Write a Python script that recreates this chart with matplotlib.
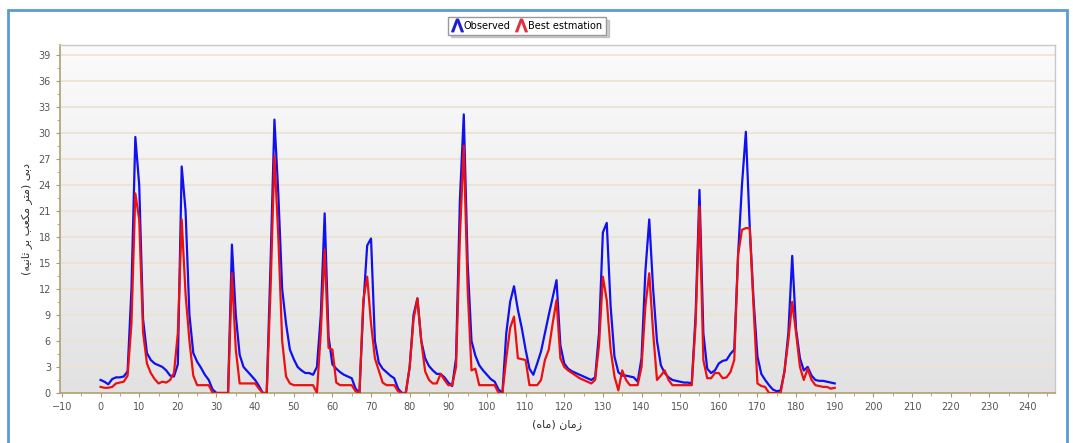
import numpy as np
import matplotlib
matplotlib.use("Agg")
import matplotlib.pyplot as plt
from matplotlib.lines import Line2D
from matplotlib.patches import Rectangle

# monthly discharge, months 0..190
observed = [
    1.5, 1.3, 1.0, 1.6, 1.8, 1.8, 1.9, 2.5, 12.0, 29.5,
    24.0, 8.5, 4.6, 3.8, 3.4, 3.2, 3.0, 2.6, 2.0, 1.9,
    3.3, 26.1, 21.0, 9.0, 4.6, 3.6, 2.9, 2.1, 1.5, 0.4,
    0.0, 0.0, 0.0, 0.0, 17.1, 9.0, 4.4, 3.0, 2.5, 2.0,
    1.5, 0.8, 0.0, 0.0, 15.0, 31.5, 23.0, 12.0, 8.0, 5.0,
    3.9, 3.0, 2.6, 2.3, 2.3, 2.1, 3.0, 9.0, 20.7, 6.5,
    3.3, 2.8, 2.4, 2.1, 1.9, 1.7, 0.5, 0.0, 10.0, 17.0,
    17.8, 6.0, 3.5, 2.8, 2.4, 2.0, 1.7, 0.5, 0.0, 0.0,
    3.0, 9.0, 10.9, 6.0, 4.0, 3.1, 2.6, 2.2, 2.2, 1.8,
    1.2, 0.8, 4.0, 22.3, 32.1, 15.0, 6.0, 4.3, 3.2, 2.6,
    2.1, 1.6, 1.3, 0.4, 0.0, 6.9, 10.5, 12.3, 9.6, 7.5,
    5.0, 2.8, 2.1, 3.4, 4.8, 6.9, 9.0, 11.0, 13.0, 5.5,
    3.4, 2.8, 2.5, 2.3, 2.1, 1.9, 1.7, 1.5, 1.8, 6.9,
    18.5, 19.6, 10.0, 4.2, 2.4, 2.0, 2.0, 1.9, 1.8, 1.3,
    4.0, 14.0, 20.0, 12.0, 6.0, 3.2, 2.3, 1.8, 1.5, 1.4,
    1.3, 1.2, 1.2, 1.1, 9.0, 23.4, 6.9, 2.8, 2.3, 2.6,
    3.4, 3.7, 3.8, 4.5, 5.0, 16.0, 24.0, 30.1, 19.2, 10.7,
    4.2, 2.2, 1.5, 0.9, 0.4, 0.2, 0.3, 2.5, 6.9, 15.8,
    7.3, 4.0, 2.6, 3.0, 2.0, 1.5, 1.4, 1.4, 1.3, 1.2,
    1.1,
]
estimated = [
    0.7, 0.6, 0.6, 0.7, 1.1, 1.2, 1.3, 2.0, 8.0, 23.0,
    20.0, 7.0, 3.4, 2.3, 1.6, 1.1, 1.3, 1.2, 1.5, 2.3,
    6.9, 20.0, 11.4, 6.0, 2.0, 0.9, 0.9, 0.9, 0.9, 0.0,
    0.0, 0.0, 0.0, 0.0, 13.8, 5.0, 1.1, 1.1, 1.1, 1.1,
    1.1, 0.5, 0.0, 0.0, 12.0, 27.3, 18.0, 6.0, 1.9, 1.1,
    0.9, 0.9, 0.9, 0.9, 0.9, 0.9, 0.0, 7.0, 16.5, 5.2,
    5.0, 1.2, 0.9, 0.9, 0.9, 0.9, 0.2, 0.0, 10.7, 13.4,
    8.0, 4.0, 2.6, 1.2, 0.9, 0.9, 0.9, 0.2, 0.0, 0.0,
    3.0, 8.5, 10.9, 6.0, 2.5, 1.5, 1.1, 1.1, 2.2, 1.5,
    0.9, 0.9, 3.0, 18.0, 28.5, 12.0, 2.6, 2.8, 0.9, 0.9,
    0.9, 0.9, 0.9, 0.0, 0.0, 4.0, 7.5, 8.8, 4.0, 3.9,
    3.8, 0.9, 0.9, 0.9, 1.5, 3.8, 5.0, 8.0, 10.7, 4.0,
    3.0, 2.6, 2.3, 2.0, 1.7, 1.5, 1.3, 1.1, 1.5, 5.5,
    13.4, 10.7, 5.0, 1.9, 0.3, 2.6, 1.5, 0.9, 0.9, 0.9,
    3.0, 10.0, 13.8, 7.0, 1.5, 2.0, 2.6, 1.5, 0.9, 0.9,
    0.9, 0.9, 0.9, 0.9, 8.0, 21.5, 3.8, 1.7, 1.7, 2.3,
    2.3, 1.7, 1.8, 2.4, 3.8, 16.0, 18.8, 19.0, 19.0, 9.9,
    1.1, 0.8, 0.7, 0.0, 0.0, 0.0, 0.0, 2.5, 6.1, 10.5,
    6.9, 3.0, 1.5, 2.8, 1.5, 0.9, 0.8, 0.7, 0.7, 0.5,
    0.6,
]
months = np.arange(len(observed))

x_ticks = list(range(-10, 241, 10))
y_ticks = list(range(0, 40, 3))


def rtl(s):
    # reverse shaped arabic text for left-to-right drawing, mirror brackets
    swap = {"(": ")", ")": "("}
    return "".join(swap.get(c, c) for c in reversed(s))


xlabel = rtl("\uFEAF\uFEE3\uFE8E\uFEE5 (\uFEE3\uFE8E\uFEE9)")
ylabel = rtl("\uFEA9\uFE91\uFEF0 (\uFEE3\uFE98\uFEAE \uFEE3\uFB91\uFECC\uFE90 "
             "\uFE91\uFEAE \uFE9B\uFE8E\uFEE7\uFEF4\uFEEA)")

fig = plt.figure(figsize=(10.73, 4.43), dpi=100)
ax = fig.add_axes([0.0559, 0.1129, 0.9273, 0.7855])

xmin, xmax = -10.5, 247
ymin, ymax = 0, 40.1

# gradient background
grad = np.linspace(0, 1, 256).reshape(-1, 1)
ax.imshow(grad, extent=[xmin, xmax, ymin, ymax], aspect="auto",
          cmap=matplotlib.colors.LinearSegmentedColormap.from_list(
              "bg", ["#fbfbfb", "#e2e2e2"]), origin="upper", zorder=0)

for yv in y_ticks[1:]:
    ax.axhline(yv, color="#ece3d2", lw=1.3, zorder=1)

ax.plot(months, observed, color="#1010f0", lw=1.6, zorder=3)
ax.plot(months, estimated, color="#ee1010", lw=1.6, zorder=4)

ax.set_xlim(xmin, xmax)
ax.set_ylim(ymin, ymax)
ax.set_xticks(x_ticks)
ax.set_yticks(y_ticks)
ax.set_xticks(np.arange(-10, 246, 5), minor=True)
ax.set_yticks(np.arange(0, 40, 1.5), minor=True)
ax.tick_params(axis="both", labelsize=7, colors="#555555", length=3, width=0.8)
ax.tick_params(axis="both", which="minor", length=2, color="#a89a70")
ax.tick_params(axis="both", which="major", color="#a89a70")

for side in ["left", "bottom"]:
    ax.spines[side].set_color("#b0a070")
    ax.spines[side].set_linewidth(1.2)
for side in ["right", "top"]:
    ax.spines[side].set_color("#c8c8c8")
    ax.spines[side].set_linewidth(1.0)

ax.set_xlabel(xlabel, fontsize=8, color="#333333", labelpad=5)
ax.set_ylabel(ylabel, fontsize=8, color="#333333", labelpad=4)

handles = [
    Line2D([], [], color="#2020d0", marker=r"$\Lambda$", linestyle="none", markersize=9),
    Line2D([], [], color="#e03040", marker=r"$\Lambda$", linestyle="none", markersize=9),
]
fig.legend(handles, ["Observed", "Best estmation"], loc="center",
           bbox_to_anchor=(0.491, 0.942), ncol=2, fontsize=7, frameon=True,
           fancybox=False, edgecolor="#999999", handlelength=1.0,
           handletextpad=0.2, columnspacing=0.6, borderpad=0.4,
           shadow={"alpha": 0.25})

# blue frame around the whole chart
fig.patches.append(Rectangle((0.0075, -0.1), 0.987, 1.077, transform=fig.transFigure,
                             fill=False, edgecolor="#5b9bd5", lw=2.0))

fig.savefig("out.png", dpi=100)
